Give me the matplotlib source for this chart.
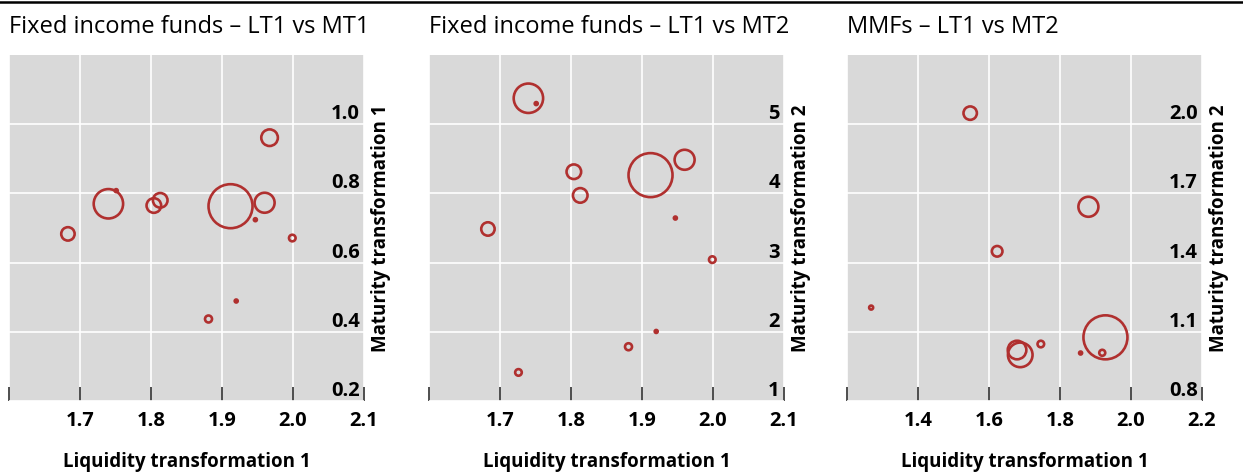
import matplotlib
matplotlib.use("Agg")
import matplotlib.pyplot as plt
from matplotlib.lines import Line2D

plt.rcParams['font.family'] = ['Open Sans', 'DejaVu Sans']

# liquidity transformation (x) shared by the fixed income panels
fi_lt1 = [1.683, 1.740, 1.751, 1.804, 1.813, 1.912, 1.960, 1.967, 1.947, 1.999, 1.920, 1.881]
fi_mt1 = [0.683, 0.770, 0.808, 0.765, 0.780, 0.763, 0.773, 0.961, 0.724, 0.671, 0.489, 0.437]
fi_size1 = [6.7, 14.7, 1.5, 7.3, 7.3, 22.0, 10.0, 8.3, 1.5, 3.3, 1.5, 3.5]

fi2_lt1 = [1.683, 1.740, 1.751, 1.804, 1.813, 1.912, 1.960, 1.947, 1.999, 1.920, 1.881, 1.726]
fi2_mt2 = [3.486, 5.375, 5.298, 4.313, 3.971, 4.264, 4.486, 3.644, 3.043, 2.005, 1.784, 1.413]
fi_size2 = [6.7, 14.7, 1.5, 7.3, 7.3, 22.0, 10.0, 1.5, 3.3, 1.5, 3.5, 3.3]

mmf_lt1 = [1.547, 1.880, 1.623, 1.268, 1.688, 1.679, 1.746, 1.858, 1.919, 1.928]
mmf_mt2 = [2.048, 1.642, 1.449, 1.205, 1.000, 1.021, 1.047, 1.008, 1.009, 1.076]
mmf_size = [6.7, 10.0, 5.3, 2.0, 12.3, 9.3, 3.3, 1.5, 3.0, 22.0]

titles = ['Fixed income funds \u2013 LT1 vs MT1',
          'Fixed income funds \u2013 LT1 vs MT2',
          'MMFs \u2013 LT1 vs MT2']
ylabels = ['Maturity transformation 1', 'Maturity transformation 2', 'Maturity transformation 2']

xticks = [[1.6, 1.7, 1.8, 1.9, 2.0, 2.1],
          [1.6, 1.7, 1.8, 1.9, 2.0, 2.1],
          [1.2, 1.4, 1.6, 1.8, 2.0, 2.2]]
yticks = [[0.2, 0.4, 0.6, 0.8, 1.0],
          [1, 2, 3, 4, 5],
          [0.8, 1.1, 1.4, 1.7, 2.0]]
ylims = [(0.2, 1.2), (1, 6), (0.8, 2.3)]
yfmt = ['{:.1f}', '{:.0f}', '{:.1f}']

data = [(fi_lt1, fi_mt1, fi_size1), (fi2_lt1, fi2_mt2, fi_size2), (mmf_lt1, mmf_mt2, mmf_size)]

W, H = 1243, 475
fig = plt.figure(figsize=(W / 100, H / 100), dpi=100)
red = '#b0302f'
lefts = [9, 429, 847]

for i in range(3):
    ax = fig.add_axes([lefts[i] / W, 74 / H, 355 / W, 346 / H])
    ax.set_facecolor('#d9d9d9')
    x, y, r = data[i]
    # bubble radius in px -> marker area in pt^2
    s = [(2 * v * 0.72) ** 2 for v in r]
    ax.scatter(x, y, s=s, facecolors='none', edgecolors=red, linewidths=1.9, zorder=3)

    ax.set_xlim(xticks[i][0], xticks[i][-1])
    ax.set_ylim(*ylims[i])
    ax.set_xticks(xticks[i])
    ax.set_xticklabels([''] + ['{:.1f}'.format(t) for t in xticks[i][1:]],
                       fontsize=14.5, fontweight='bold')
    ax.set_yticks(yticks[i])
    ax.set_yticklabels([yfmt[i].format(t) for t in yticks[i]], fontsize=14.5, fontweight='bold')
    ax.grid(True, color='white', linewidth=1.2)
    ax.set_axisbelow(True)
    for sp in ax.spines.values():
        sp.set_visible(False)

    ax.tick_params(axis='x', direction='in', length=10, width=1.3, color='#404040', pad=7)
    ax.yaxis.tick_right()
    ax.yaxis.set_label_position('right')
    ax.tick_params(axis='y', length=0, pad=-3)
    for lbl in ax.get_yticklabels():
        lbl.set_horizontalalignment('right')
        lbl.set_verticalalignment('bottom')

    ax.set_xlabel('Liquidity transformation 1', fontsize=13.5, fontweight='bold', labelpad=15)
    ax.set_ylabel(ylabels[i], fontsize=13.5, fontweight='bold', labelpad=5)
    ax.set_title(titles[i], loc='left', fontsize=17, pad=16)

# rule across the top
fig.add_artist(Line2D([0, 1], [1 - 2 / H, 1 - 2 / H], color='black', linewidth=1.8))

fig.savefig('out.png', dpi=100)
